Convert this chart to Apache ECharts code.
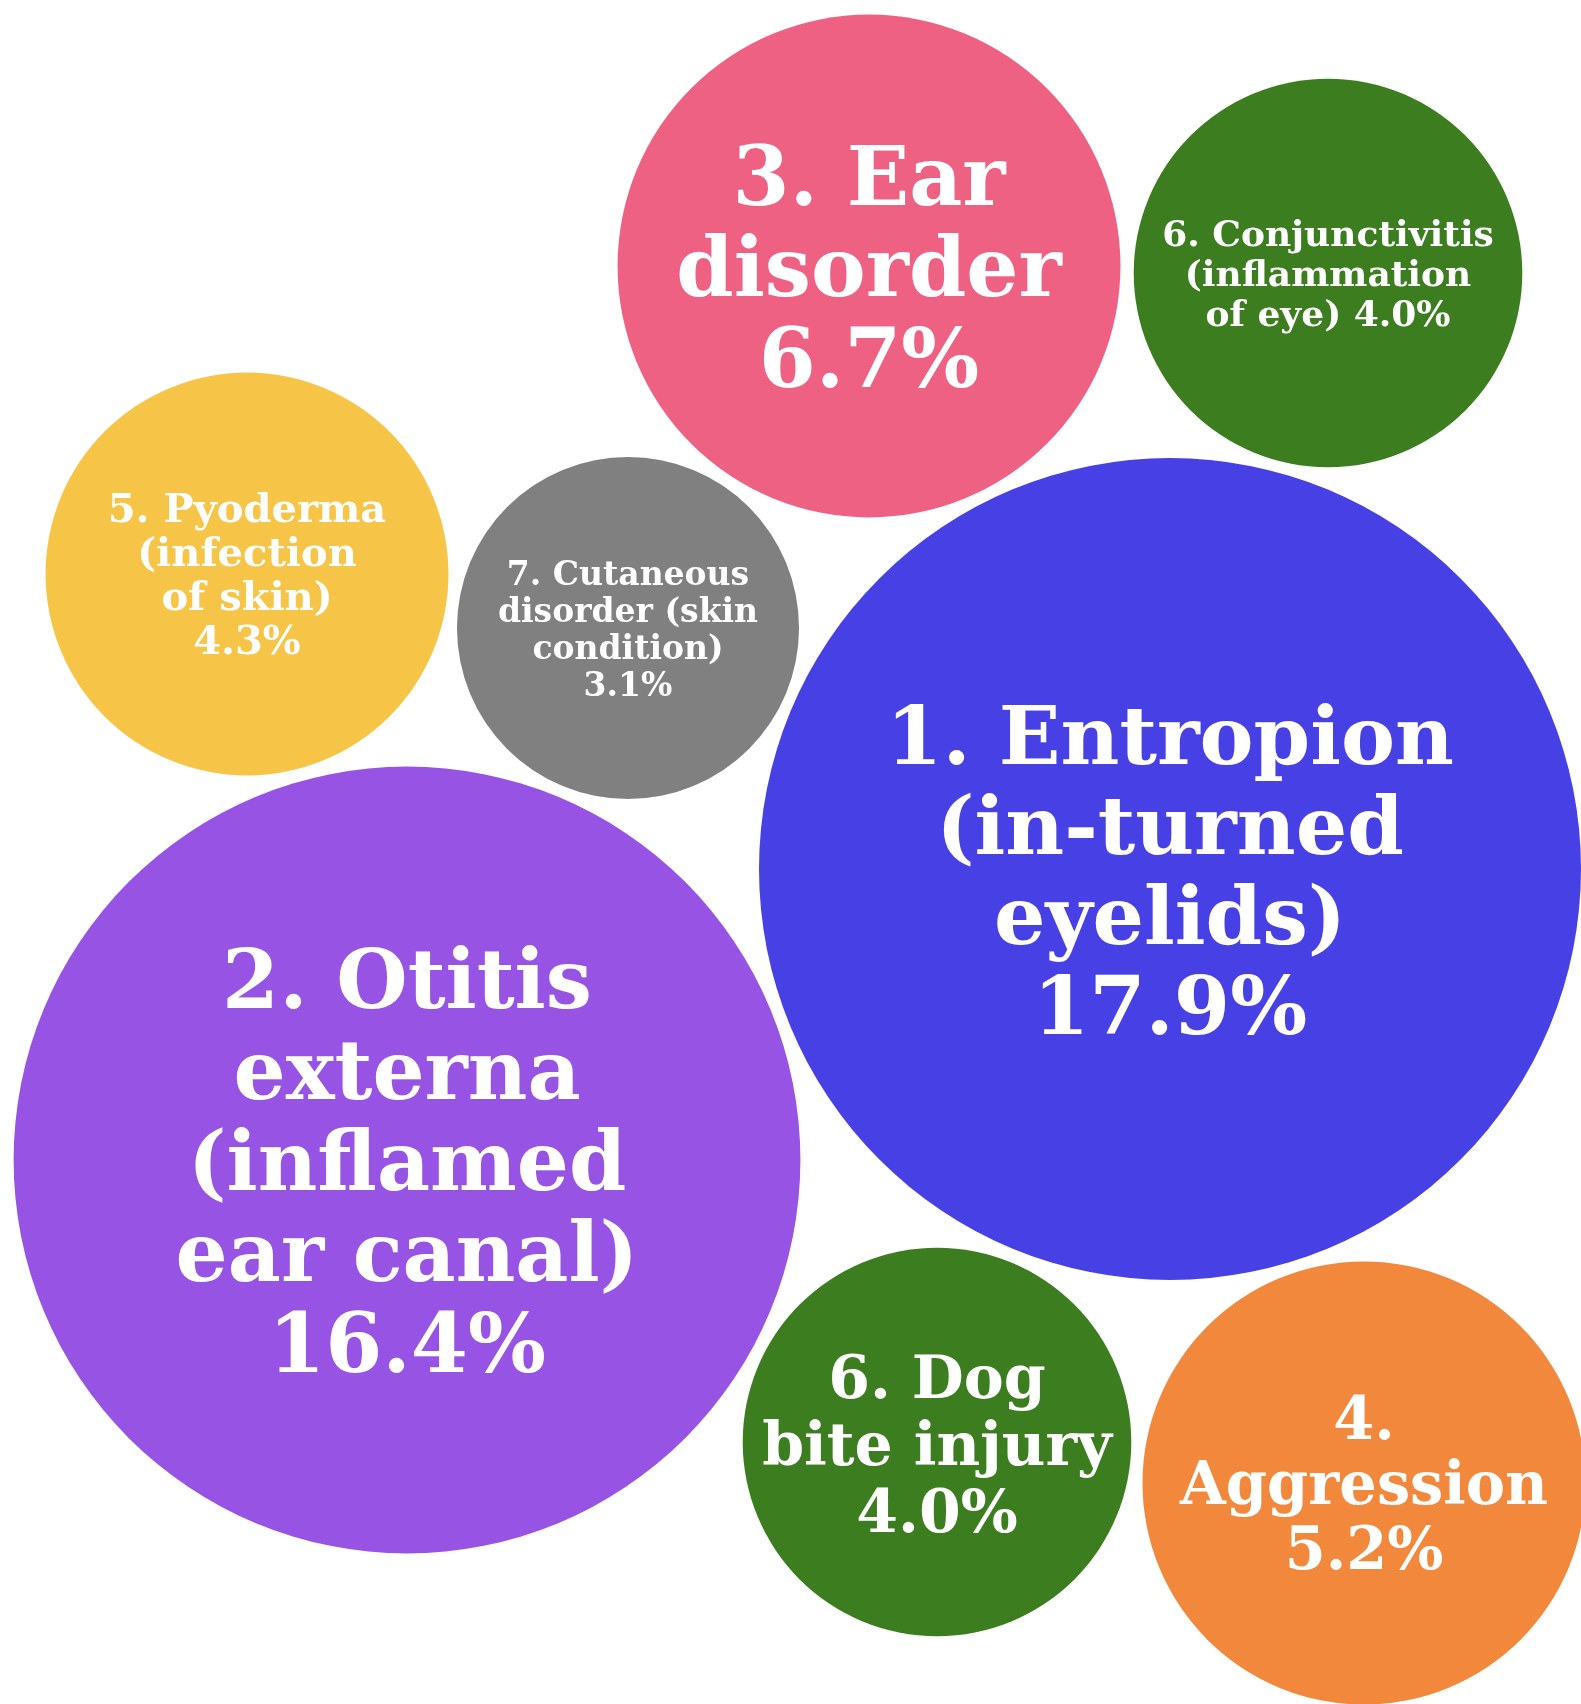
<!DOCTYPE html>
<html>
<head>
<meta charset="UTF-8">
<title>Bubbles</title>
<script type="text/javascript" src="https://cdn.jsdelivr.net/npm/echarts@6/dist/echarts.min.js"></script>
<style>
body{margin:0;background:#fff;}
</style>
</head>
<body>
<div id="main" style="width:1581px;height:1704px;"></div>

<script type="text/javascript">
// data
var names=[
  '1. Entropion\n(in-turned\neyelids)',
  '2. Otitis\nexterna\n(inflamed\near canal)',
  '3. Ear\ndisorder',
  '4.\nAggression',
  '5. Pyoderma\n(infection\nof skin)',
  '6. Conjunctivitis\n(inflammation\nof eye)',
  '6. Dog\nbite injury',
  '7. Cutaneous\ndisorder (skin\ncondition)'
];
var values=[17.9,16.4,6.7,5.2,4.3,4.0,4.0,3.1];

// layout of the packed bubbles (centre of each)
var bubbleX=[1170,407,869,1364,247,1328,937,628];
var bubbleY=[869,1160,266,1483,574,273,1442,628];

// styles
var colors=['#4741e5','#9653e4','#ee6183','#f1883c','#f6c548','#3b7d1f','#3b7d1f','#808080'];
var fontSizes=[81,82,82,59,40,36,60,33];
var pctJoin=['\n','\n','\n','\n','\n',' ','\n','\n'];

var mychart=echarts.init(document.getElementById('main'));

// bubble area proportional to value
var k=822/Math.sqrt(17.9);

var seriesData=[];
for(var i=0;i<values.length;i++){
  seriesData.push({
    name:names[i],
    value:[bubbleX[i],bubbleY[i],values[i]],
    itemStyle:{color:colors[i],opacity:1},
    label:{
      fontSize:fontSizes[i],
      lineHeight:Math.round(fontSizes[i]*1.11),
      offset:[0,Math.round(fontSizes[i]*0.11)]
    }
  });
}

var option={
  animation:false,
  grid:{left:0,right:0,top:0,bottom:0},
  xAxis:{type:'value',min:0,max:1581,show:false},
  yAxis:{type:'value',min:0,max:1704,inverse:true,show:false},
  series:[{
    type:'scatter',
    symbol:'circle',
    symbolSize:function(v){return k*Math.sqrt(v[2]);},
    data:seriesData,
    label:{
      show:true,
      position:'inside',
      color:'#fff',
      fontFamily:'DejaVu Serif',
      fontWeight:'bold',
      align:'center',
      verticalAlign:'middle',
      formatter:function(p){
        return p.name+pctJoin[p.dataIndex]+p.value[2].toFixed(1)+'%';
      }
    },
    emphasis:{disabled:true}
  }]
};

mychart.setOption(option);
</script>
</body>
</html>
